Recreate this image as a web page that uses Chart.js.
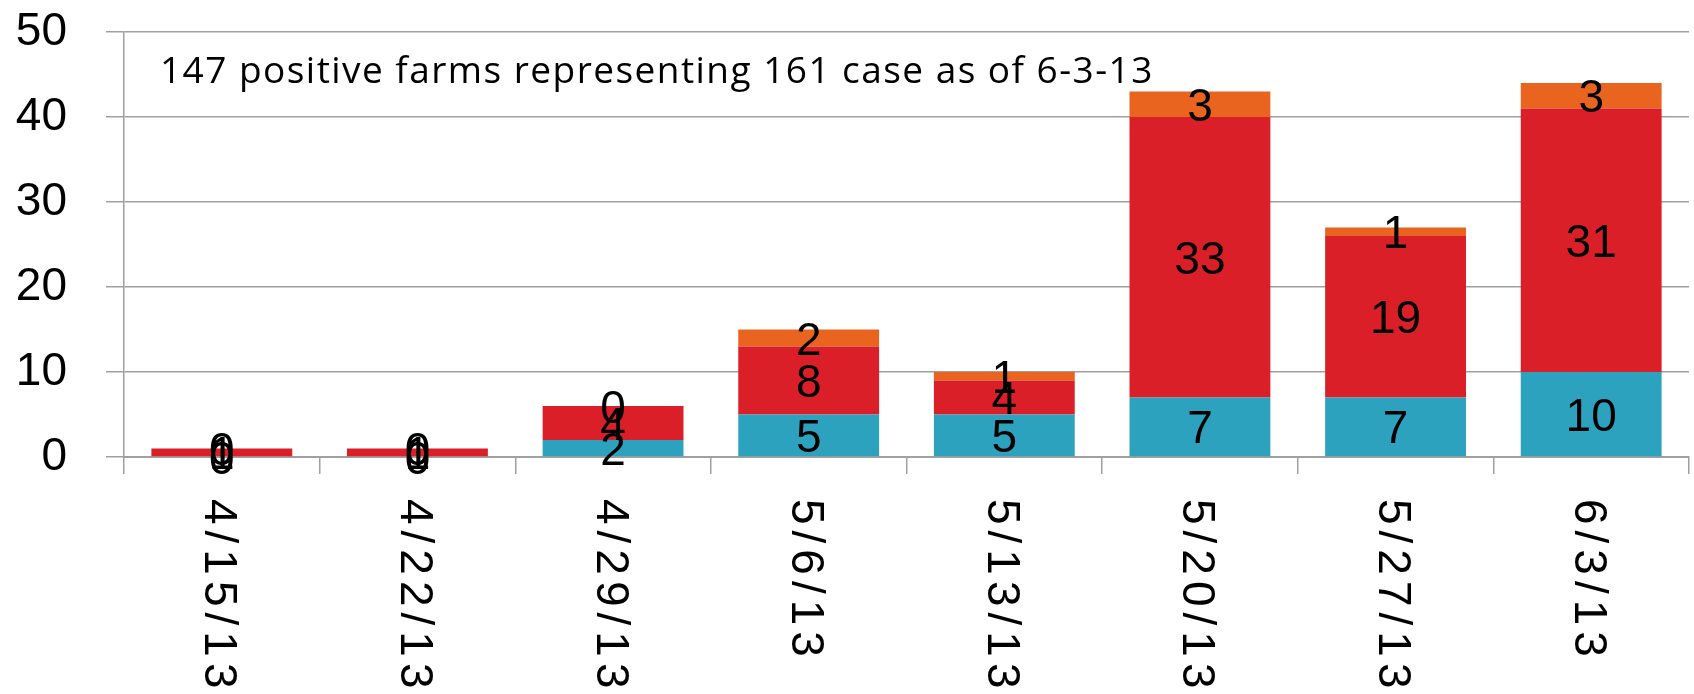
<!DOCTYPE html>
<html>
<head>
<meta charset="utf-8">
<script src="https://cdn.jsdelivr.net/npm/chart.js@4/dist/chart.umd.min.js"></script>
<style>
  html, body { margin: 0; padding: 0; background: #ffffff; }
  #wrap { width: 1694px; height: 694px; position: relative; }
</style>
</head>
<body>
<div id="wrap"><canvas id="c" width="1694" height="694"></canvas></div>
<script>
const categories = ['4/15/13', '4/22/13', '4/29/13', '5/6/13', '5/13/13', '5/20/13', '5/27/13', '6/3/13'];
const seriesTeal   = [0, 0, 2, 5, 5, 7, 7, 10];
const seriesRed    = [1, 1, 4, 8, 4, 33, 19, 31];
const seriesOrange = [0, 0, 0, 2, 1, 3, 1, 3];
const yTicks = [0, 10, 20, 30, 40, 50];
const annotationText = '147 positive farms representing 161 case as of 6-3-13';

const GRID = '#A0A0A0';

const labelPlugin = {
  id: 'customLabels',
  afterDatasetsDraw(chart) {
    const ctx = chart.ctx;
    const area = chart.chartArea;
    const capH = 33;
    // data labels
    ctx.save();
    ctx.fillStyle = '#000';
    ctx.font = '46px "Liberation Sans", Arial, sans-serif';
    ctx.textAlign = 'center';
    ctx.textBaseline = 'alphabetic';
    chart.data.datasets.forEach((ds, di) => {
      const meta = chart.getDatasetMeta(di);
      meta.data.forEach((bar, i) => {
        const p = bar.getProps(['x', 'y', 'base'], true);
        const cy = (p.y + p.base) / 2;
        ctx.fillText(String(ds.data[i]), p.x, cy + capH / 2);
      });
    });
    ctx.restore();

    // annotation text
    ctx.save();
    ctx.fillStyle = '#000';
    ctx.font = '37px "Open Sans", "DejaVu Sans", sans-serif';
    ctx.textBaseline = 'alphabetic';
    ctx.textAlign = 'left';
    ctx.letterSpacing = '0px';
    const w = ctx.measureText(annotationText).width;
    const target = 994;
    const ls = (target - w) / annotationText.length;
    ctx.letterSpacing = ls.toFixed(2) + 'px';
    ctx.fillText(annotationText, area.left + 36, area.top + 51);
    ctx.restore();

    // rotated x labels (reading top to bottom)
    const xs = chart.scales.x;
    ctx.save();
    ctx.fillStyle = '#000';
    ctx.font = '46px "Liberation Sans", Arial, sans-serif';
    ctx.textBaseline = 'alphabetic';
    ctx.textAlign = 'left';
    ctx.letterSpacing = '6px';
    categories.forEach((lab, i) => {
      const cx = xs.getPixelForTick(i);
      ctx.save();
      ctx.translate(cx - capH / 2, area.bottom + 42);
      ctx.rotate(Math.PI / 2);
      ctx.fillText(lab, 0, 0);
      ctx.restore();
    });
    ctx.restore();
  }
};

new Chart(document.getElementById('c'), {
  type: 'bar',
  data: {
    labels: categories,
    datasets: [
      { label: 'A', data: seriesTeal, backgroundColor: '#2DA2BF' },
      { label: 'B', data: seriesRed, backgroundColor: '#DA1F28' },
      { label: 'C', data: seriesOrange, backgroundColor: '#E9641E' }
    ]
  },
  options: {
    responsive: false,
    animation: false,
    devicePixelRatio: 1,
    layout: { padding: { top: 32, right: 5, bottom: 220, left: 0 } },
    plugins: { legend: { display: false }, tooltip: { enabled: false } },
    datasets: { bar: { categoryPercentage: 1.0, barPercentage: 0.72 } },
    scales: {
      x: {
        stacked: true,
        grid: { display: true, drawOnChartArea: false, drawTicks: true, tickLength: 17, color: GRID, lineWidth: 1.5, offset: true },
        border: { display: true, color: GRID, width: 2 },
        ticks: { display: false }
      },
      y: {
        stacked: true,
        min: 0,
        max: 50,
        afterBuildTicks(scale) { scale.ticks = yTicks.map(v => ({ value: v })); },
        afterFit(scale) { scale.width = 124; scale.paddingTop = 0; scale.paddingBottom = 0; },
        grid: { color: GRID, lineWidth: 1.5, tickLength: 18 },
        border: { display: true, color: GRID, width: 1.5 },
        ticks: {
          color: '#000',
          padding: 39,
          font: { family: '"Liberation Sans", Arial, sans-serif', size: 46 }
        }
      }
    }
  },
  plugins: [labelPlugin]
});
</script>
</body>
</html>
